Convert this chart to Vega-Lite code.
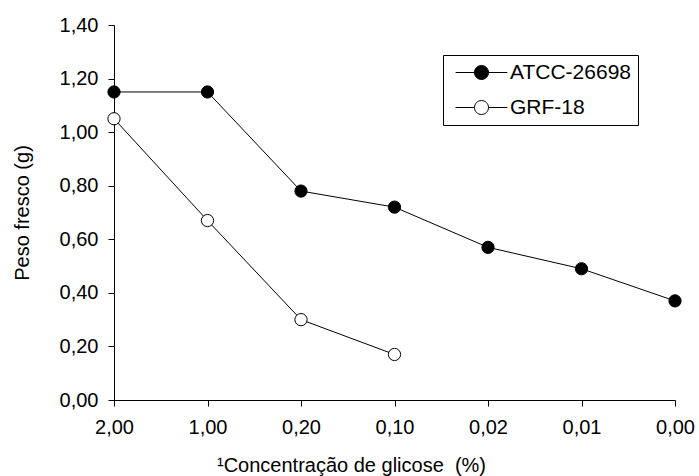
{
  "$schema": "https://vega.github.io/schema/vega-lite/v6.json",
  "autosize": {"type": "none"},
  "padding": {"left": 114, "top": 25, "right": 24, "bottom": 76},
  "width": 561,
  "height": 375,
  "background": "white",
  "config": {
    "view": {"stroke": null},
    "font": "Liberation Sans",
    "axis": {
      "grid": false,
      "domainColor": "#000",
      "domainWidth": 1,
      "tickColor": "#000",
      "tickWidth": 1,
      "labelFont": "Liberation Sans",
      "titleFont": "Liberation Sans",
      "labelFontSize": 20,
      "titleFontSize": 20,
      "labelColor": "#000",
      "titleColor": "#000",
      "titleFontWeight": "normal"
    },
    "legend": {
      "labelFont": "Liberation Sans",
      "labelFontSize": 21,
      "labelColor": "#000"
    }
  },
  "data": {
    "values": [
      {"conc": "2,00", "serie": "ATCC-26698", "peso": 1.15},
      {"conc": "1,00", "serie": "ATCC-26698", "peso": 1.15},
      {"conc": "0,20", "serie": "ATCC-26698", "peso": 0.78},
      {"conc": "0,10", "serie": "ATCC-26698", "peso": 0.72},
      {"conc": "0,02", "serie": "ATCC-26698", "peso": 0.57},
      {"conc": "0,01", "serie": "ATCC-26698", "peso": 0.49},
      {"conc": "0,00", "serie": "ATCC-26698", "peso": 0.37},
      {"conc": "2,00", "serie": "GRF-18", "peso": 1.05},
      {"conc": "1,00", "serie": "GRF-18", "peso": 0.67},
      {"conc": "0,20", "serie": "GRF-18", "peso": 0.30},
      {"conc": "0,10", "serie": "GRF-18", "peso": 0.17}
    ]
  },
  "encoding": {
    "x": {
      "field": "conc",
      "type": "ordinal",
      "sort": ["2,00", "1,00", "0,20", "0,10", "0,02", "0,01", "0,00"],
      "scale": {"type": "point", "padding": 0},
      "axis": {
        "title": "¹Concentração de glicose \u00a0(%)",
        "labelAngle": 0,
        "tickSize": 6,
        "labelPadding": 11,
        "titleX": 237,
        "titleY": 71,
        "titleBaseline": "alphabetic"
      }
    },
    "y": {
      "field": "peso",
      "type": "quantitative",
      "scale": {"domain": [0, 1.4], "nice": false, "zero": true},
      "axis": {
        "title": "Peso fresco (g)",
        "values": [0, 0.2, 0.4, 0.6, 0.8, 1.0, 1.2, 1.4],
        "labelExpr": "replace(format(datum.value, '.2f'), '.', ',')",
        "tickSize": 6,
        "labelPadding": 10,
        "titleX": -92,
        "titleBaseline": "middle"
      }
    }
  },
  "layer": [
    {
      "mark": {"type": "line", "color": "#000", "strokeWidth": 1},
      "encoding": {"detail": {"field": "serie"}}
    },
    {
      "mark": {"type": "circle", "size": 150, "stroke": "#000", "strokeWidth": 1, "opacity": 1},
      "encoding": {
        "fill": {
          "field": "serie",
          "type": "nominal",
          "scale": {"domain": ["ATCC-26698", "GRF-18"], "range": ["#000000", "#ffffff"]},
          "legend": {
            "title": null,
            "orient": "none",
            "legendX": 329,
            "legendY": 30,
            "padding": 7,
            "strokeColor": "#000",
            "fillColor": "#fff",
            "symbolType": "M-3.7,0H-1M1,0H3.7M-1,0A1,1 0 1,0 1,0A1,1 0 1,0 -1,0Z",
            "symbolSize": 196,
            "symbolStrokeColor": "#000",
            "symbolStrokeWidth": 1,
            "symbolOffset": 21,
            "labelOffset": 18,
            "rowPadding": 13
          }
        }
      }
    }
  ]
}
